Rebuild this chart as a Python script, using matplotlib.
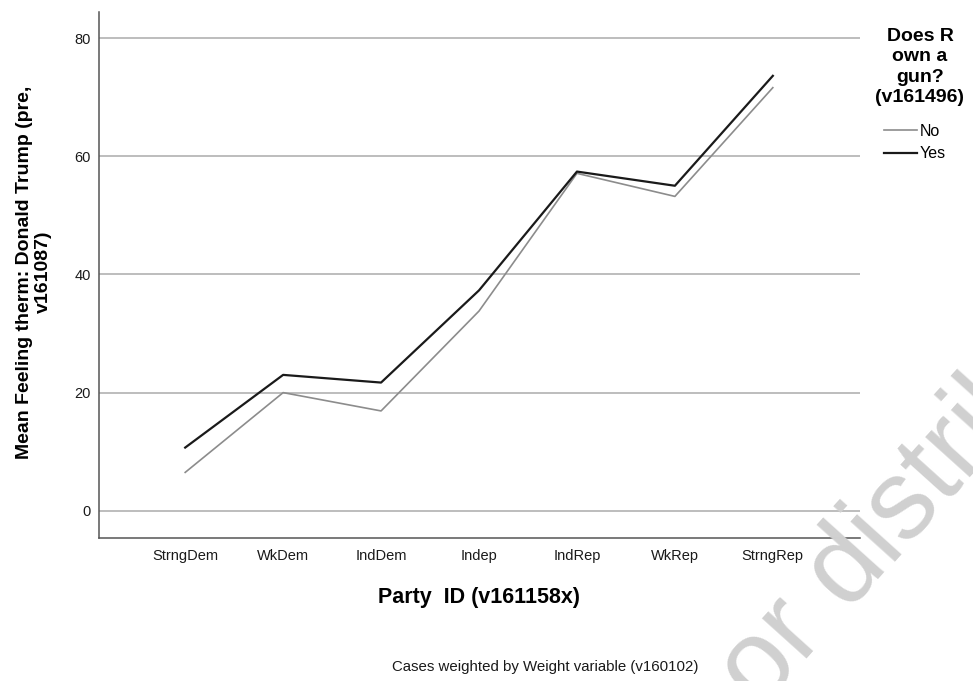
import matplotlib.pyplot as plt

plt.rcParams["font.family"] = ["Liberation Sans", "DejaVu Sans"]

party_ids = ["StrngDem", "WkDem", "IndDem", "Indep", "IndRep", "WkRep", "StrngRep"]
gun_no = [6.5, 20.0, 16.9, 33.8, 57.1, 53.2, 71.6]
gun_yes = [10.7, 23.0, 21.7, 37.3, 57.4, 55.0, 73.6]
y_ticks = [0, 20, 40, 60, 80]

W, H = 973, 681
fig = plt.figure(figsize=(W / 100, H / 100), dpi=100)
ax = fig.add_axes([99 / W, 1 - 538 / H, (860 - 99) / W, (538 - 12) / H])

x = list(range(len(party_ids)))
ax.plot(x, gun_no, color="#8c8c8c", lw=1.2, label="No", zorder=3)
ax.plot(x, gun_yes, color="#1a1a1a", lw=1.6, label="Yes", zorder=4)

ax.set_xlim(-0.88, 6.89)
ax.set_ylim(-4.6, 84.4)
ax.set_yticks(y_ticks)
ax.set_xticks(x)
ax.set_xticklabels(party_ids)
ax.tick_params(length=0, labelsize=10.5, colors="#1a1a1a", pad=8)
ax.tick_params(axis="y", pad=6)
ax.grid(axis="y", color="#bdbdbd", lw=1.4)
ax.set_axisbelow(True)
for side in ["top", "right"]:
    ax.spines[side].set_visible(False)
for side in ["left", "bottom"]:
    ax.spines[side].set_color("#555555")
    ax.spines[side].set_linewidth(1.1)

ax.set_xlabel("Party  ID (v161158x)", fontsize=15.5, fontweight="bold", labelpad=17)
ax.set_ylabel("Mean Feeling therm: Donald Trump (pre,\nv161087)", fontsize=14,
              fontweight="bold", linespacing=1.1)
ax.yaxis.set_label_coords(-0.0854, 0.506)
ax.yaxis.label.set_va("center")

fig.text(920 / W, 1 - 28 / H, "Does R\nown a\ngun?\n(v161496)", ha="center", va="top",
         fontsize=14, fontweight="bold", linespacing=1.25)
leg = fig.legend(loc="upper left", bbox_to_anchor=(884 / W, 1 - 124 / H), frameon=False,
                 fontsize=11.5, handlelength=2.05, handletextpad=0.2,
                 labelspacing=0.45, borderpad=0, borderaxespad=0)

fig.text(545 / W, 1 - 667 / H, "Cases weighted by Weight variable (v160102)",
         ha="center", va="center", fontsize=10.8, color="#1a1a1a")

# watermark, partly outside the figure as in the source
fig.text(760 / W, 1 - 710 / H, "or distribute", fontsize=81, color="#d0d0d0",
         rotation=48, ha="left", va="baseline", rotation_mode="anchor", zorder=0)

fig.savefig("out.png", dpi=100)
